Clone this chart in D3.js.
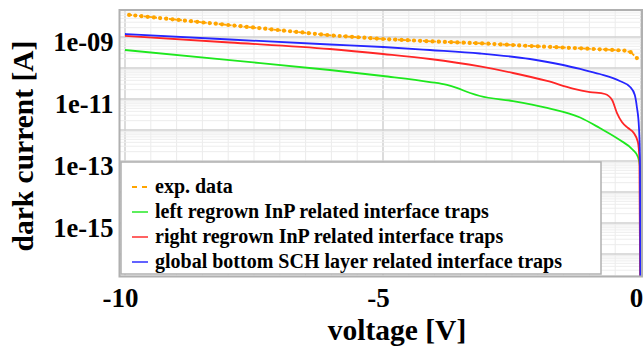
<!DOCTYPE html>
<html><head><meta charset="utf-8">
<script src="https://cdn.jsdelivr.net/npm/d3@7"></script>
<style>
html,body{margin:0;padding:0;background:#fff;}
svg{display:block;}
text{font-family:"Liberation Serif","DejaVu Serif",serif;font-weight:bold;fill:#000;}
</style></head>
<body>
<svg id="chart" width="644" height="347"></svg>
<script>
// ---------- data ----------
const seriesNames = ["exp. data","left regrown InP related interface traps","right regrown InP related interface traps","global bottom SCH layer related interface traps"];
const seriesColors = ["#ffa500","#1ee81e","#ff2626","#2626ff"];

const voltsExp = [-9.92,-9.80,-9.68,-9.56,-9.44,-9.32,-9.20,-9.08,-8.96,-8.84,-8.72,-8.60,-8.48,-8.36,-8.24,-8.12,-8.00,-7.88,-7.76,-7.64,-7.52,-7.40,-7.28,-7.16,-7.04,-6.92,-6.80,-6.68,-6.56,-6.44,-6.32,-6.20,-6.08,-5.96,-5.84,-5.72,-5.60,-5.48,-5.36,-5.24,-5.12,-5.00,-4.88,-4.76,-4.64,-4.52,-4.40,-4.28,-4.16,-4.04,-3.92,-3.80,-3.68,-3.56,-3.44,-3.32,-3.20,-3.08,-2.96,-2.84,-2.72,-2.60,-2.48,-2.36,-2.24,-2.12,-2.00,-1.88,-1.76,-1.64,-1.52,-1.40,-1.28,-1.16,-1.04,-0.92,-0.80,-0.68,-0.56,-0.44,-0.32,-0.20,-0.08];
const currentExp = [5.16e-9,4.93e-9,4.70e-9,4.49e-9,4.29e-9,4.08e-9,3.90e-9,3.72e-9,3.56e-9,3.39e-9,3.24e-9,3.09e-9,2.94e-9,2.81e-9,2.69e-9,2.56e-9,2.44e-9,2.33e-9,2.23e-9,2.12e-9,2.03e-9,1.94e-9,1.85e-9,1.76e-9,1.68e-9,1.60e-9,1.53e-9,1.46e-9,1.40e-9,1.33e-9,1.27e-9,1.21e-9,1.16e-9,1.114e-9,1.079e-9,1.045e-9,1.012e-9,9.80e-10,9.48e-10,9.18e-10,8.89e-10,8.61e-10,8.41e-10,8.24e-10,8.05e-10,7.87e-10,7.71e-10,7.53e-10,7.36e-10,7.21e-10,7.08e-10,6.95e-10,6.82e-10,6.70e-10,6.58e-10,6.46e-10,6.34e-10,6.22e-10,6.07e-10,5.92e-10,5.77e-10,5.64e-10,5.50e-10,5.36e-10,5.22e-10,5.11e-10,5.00e-10,4.89e-10,4.79e-10,4.69e-10,4.58e-10,4.49e-10,4.40e-10,4.30e-10,4.20e-10,4.10e-10,4.01e-10,3.92e-10,3.83e-10,3.74e-10,3.65e-10,3.24e-10,2.09e-10];

const voltsLeft = [-10,-7.97,-6.03,-5.0,-4.09,-3.76,-3.57,-3.31,-3.12,-2.48,-1.82,-1.18,-0.80,-0.41,-0.155,-0.058,-0.019,-0.01];
const currentLeft = [3.81e-10,1.79e-10,8.61e-11,5.52e-11,3.53e-11,2.83e-11,2.27e-11,1.56e-11,1.25e-11,8.61e-12,5.13e-12,2.53e-12,1.16e-12,4.75e-13,2.27e-13,1.35e-13,6.4e-14,3e-18];

const voltsRight = [-10,-7.97,-6.03,-5.0,-4.09,-3.12,-2.48,-1.82,-1.32,-0.99,-0.70,-0.56,-0.465,-0.37,-0.25,-0.14,-0.06,-0.03,-0.015];
const currentRight = [1.08e-9,6.65e-10,4.10e-10,2.83e-10,1.95e-10,1.12e-10,6.90e-11,3.81e-11,2.18e-11,1.68e-11,1.45e-11,9.29e-12,3.53e-12,1.81e-12,1.16e-12,8.0e-13,4.1e-13,1.08e-13,3e-18];

const voltsGlobal = [-10,-7.97,-6.03,-5.0,-4.09,-3.12,-2.15,-1.51,-1.18,-0.80,-0.41,-0.21,-0.12,-0.08,-0.04,-0.02,-0.01];
const currentGlobal = [1.25e-9,8.30e-10,5.73e-10,4.76e-10,3.81e-10,2.94e-10,1.95e-10,1.25e-10,9.29e-11,6.40e-11,3.81e-11,2.44e-11,1.35e-11,5.52e-12,1.25e-12,1.08e-13,3e-18];

const xTickValues = [-10,-5,0];
const xTickLabels = ["-10","-5","0"];
const yTickValues = [1e-9,1e-11,1e-13,1e-15];
const yTickLabels = ["1e-09","1e-11","1e-13","1e-15"];
const xTitle = "voltage [V]";
const yTitle = "dark current [A]";

// ---------- layout ----------
const svg = d3.select("#chart");
const frame = {left:119.5, right:642, top:10, bottom:276.5};
const x = d3.scaleLinear().domain([-10,0]).range([125,641]);
const y = d3.scaleLog().domain([1e-9,1e-16]).range([37,254]);

svg.append("defs").append("clipPath").attr("id","clip")
  .append("rect").attr("x",frame.left).attr("y",frame.top)
  .attr("width",frame.right-frame.left).attr("height",frame.bottom-frame.top);

const grid = svg.append("g").attr("clip-path","url(#clip)");
// vertical grid
const vMinor = d3.range(-10.5, 0.51, 0.5);
grid.selectAll(".vmin").data(vMinor).join("line")
  .attr("x1",d=>x(d)).attr("x2",d=>x(d)).attr("y1",frame.top).attr("y2",frame.bottom)
  .attr("stroke", d=>Math.abs(d%5)<1e-9 ? "#d0d0d0" : "#ebebeb")
  .attr("stroke-width", d=>Math.abs(d%5)<1e-9 ? 1.5 : 1);
// horizontal grid
const decades = d3.range(-18,-6).map(e=>Math.pow(10,e));
const minors = [];
decades.forEach(dd=>{for(let m=2;m<10;m++) minors.push(dd*m);});
grid.selectAll(".hmin").data(minors).join("line")
  .attr("x1",frame.left).attr("x2",frame.right).attr("y1",d=>y(d)).attr("y2",d=>y(d))
  .attr("stroke","#ededed").attr("stroke-width",1);
grid.selectAll(".hmaj").data(decades).join("line")
  .attr("x1",frame.left).attr("x2",frame.right).attr("y1",d=>y(d)).attr("y2",d=>y(d))
  .attr("stroke","#d0d0d0").attr("stroke-width",1.5);

// ---------- series ----------
const plot = svg.append("g").attr("clip-path","url(#clip)");
const line = d3.line().x(d=>x(d[0])).y(d=>y(d[1])).curve(d3.curveMonotoneX);
const expPts = voltsExp.map((v,i)=>[v,currentExp[i]]);
const sims = [
  {v:voltsLeft, c:currentLeft, col:seriesColors[1]},
  {v:voltsRight, c:currentRight, col:seriesColors[2]},
  {v:voltsGlobal, c:currentGlobal, col:seriesColors[3]}
];
plot.append("path").datum(expPts)
  .attr("d", d3.line().x(d=>x(d[0])).y(d=>y(d[1])))
  .attr("fill","none").attr("stroke",seriesColors[0]).attr("stroke-width",1.8)
  .attr("stroke-dasharray","3,2");
plot.selectAll(".mk").data(expPts).join("circle")
  .attr("cx",d=>x(d[0])).attr("cy",d=>y(d[1])).attr("r",2.1)
  .attr("fill",seriesColors[0]);
sims.forEach(s=>{
  plot.append("path").datum(s.v.map((v,i)=>[v,s.c[i]]))
    .attr("d",line).attr("fill","none").attr("stroke",s.col).attr("stroke-width",1.8);
});

// frame
svg.append("rect").attr("x",frame.left).attr("y",frame.top)
  .attr("width",frame.right-frame.left).attr("height",frame.bottom-frame.top)
  .attr("fill","none").attr("stroke","#b0b0b0").attr("stroke-width",2);

// ---------- axes ----------
const yAxis = svg.append("g").attr("transform",`translate(${frame.left},0)`)
  .call(d3.axisLeft(y).tickValues(yTickValues).tickSize(0).tickPadding(6)
        .tickFormat((d,i)=>yTickLabels[i]));
yAxis.select(".domain").remove();
yAxis.selectAll("text").attr("font-size","26.5px").attr("font-family","Liberation Serif")
  .attr("font-weight","bold").attr("dy","0.32em").attr("transform","translate(0,5)");

const xAxis = svg.append("g").attr("transform",`translate(0,${frame.bottom})`)
  .call(d3.axisBottom(x).tickValues(xTickValues).tickSize(0).tickPadding(0)
        .tickFormat((d,i)=>xTickLabels[i]));
xAxis.select(".domain").remove();
xAxis.selectAll("text").attr("font-size","27px").attr("font-family","Liberation Serif")
  .attr("font-weight","bold").attr("y",30).attr("dy",0).attr("transform","translate(-5,0)");

svg.append("text").attr("x",397).attr("y",340).attr("text-anchor","middle")
  .attr("font-size","29.5px").text(xTitle);
svg.append("text").attr("transform","translate(33,146) rotate(-90)").attr("text-anchor","middle")
  .attr("font-size","29.5px").text(yTitle);

// ---------- legend ----------
const lg = svg.append("g");
lg.append("rect").attr("x",121).attr("y",162).attr("width",480).attr("height",112)
  .attr("fill","#fff").attr("stroke","#b0b0b0").attr("stroke-width",1.5);
seriesNames.forEach((name,i)=>{
  const cy = 187 + i*25;
  lg.append("line").attr("x1",132).attr("x2",148).attr("y1",cy).attr("y2",cy)
    .attr("stroke",seriesColors[i]).attr("stroke-width",1.8)
    .attr("stroke-dasharray", i===0 ? "5,5" : null)
    .attr("opacity", i===0 ? 1 : 0.8);
  lg.append("text").attr("x",155).attr("y",cy+6).attr("font-size","20px").text(name);
});
</script>
</body></html>
